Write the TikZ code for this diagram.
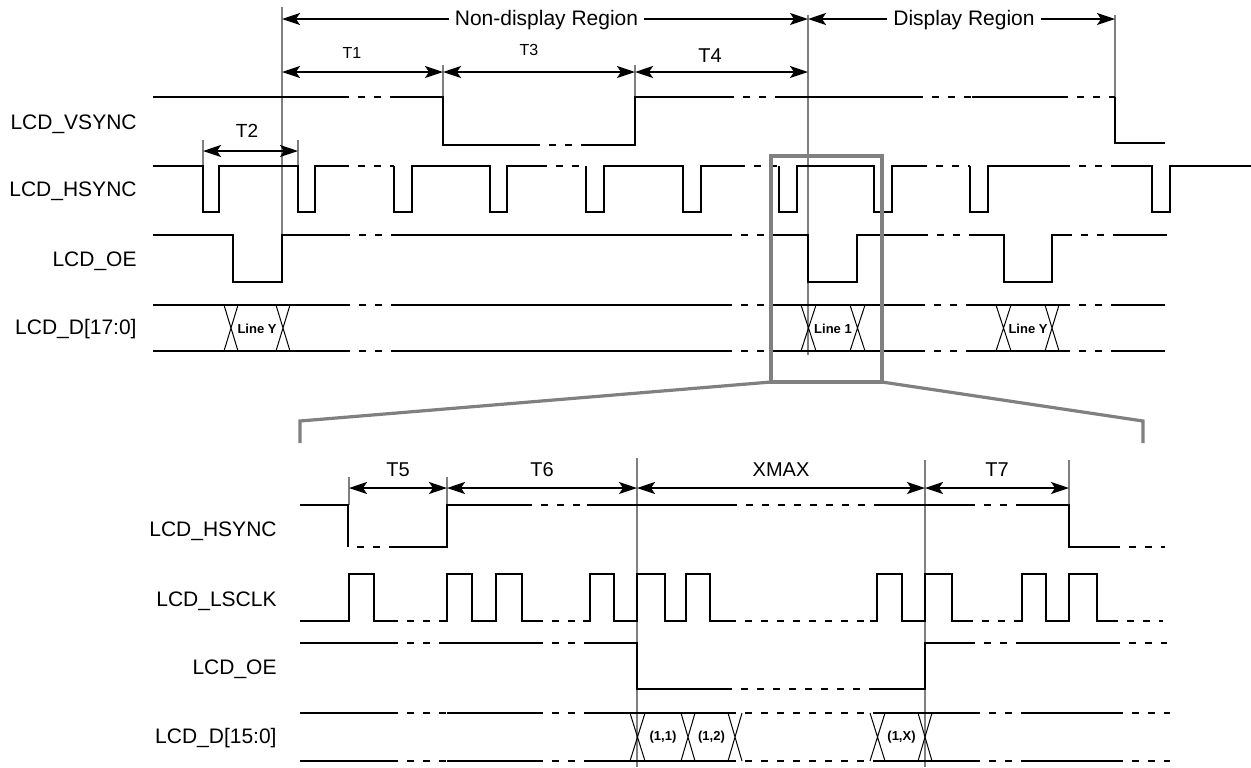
\documentclass[tikz,border=0pt]{standalone}
\usepackage{fontspec}
\setmainfont{Liberation Sans}
\usetikzlibrary{arrows.meta}
\definecolor{gline}{RGB}{128,128,128}
\newcommand\buscross[4]{\draw[xl] (#1,#3)--(#2,#4) (#1,#4)--(#2,#3);}
\begin{document}
\begin{tikzpicture}[x=0.5pt,y=-0.5pt,
 sig/.style={line width=1pt, line join=miter, line cap=butt},
 brk/.style={line width=1pt, dash pattern=on 3.5pt off 4.5pt, dash phase=3.5pt},
 xl/.style={line width=0.5pt},
 gl/.style={draw=gline, line width=0.9pt},
 zl/.style={draw=gline, line width=1.6pt},
 dim/.style={line width=1pt, {Stealth[length=9pt,width=6pt,inset=2pt]}-{Stealth[length=9pt,width=6pt,inset=2pt]}},
 lab/.style={anchor=base east, inner sep=0pt, font=\fontsize{10.5}{12}\selectfont},
 tl/.style={anchor=base, inner sep=0pt, font=\fontsize{10}{12}\selectfont},
 ts/.style={anchor=base, inner sep=0pt, font=\fontsize{8}{10}\selectfont},
 rl/.style={anchor=base, inner ysep=0pt, inner xsep=3pt, fill=white, font=\fontsize{10.5}{12}\selectfont},
 bl/.style={inner sep=0pt, font=\bfseries\fontsize{6.5}{8}\selectfont},
]
\fill[white] (0,0) rectangle (1251,767);
\useasboundingbox (0,0) rectangle (1251,767);

% ---------- gray guide lines (top) ----------
\draw[gl] (282,7) -- (282,235);
\draw[gl] (808,15) -- (808,355);
\draw[gl] (1115,15) -- (1115,97);
\draw[gl] (443,65) -- (443,97);
\draw[gl] (635,65) -- (635,97);
\draw[gl] (203,140) -- (203,166);
\draw[gl] (298,140) -- (298,166);

% ---------- dimension arrows (top) ----------
\coordinate (a0) at (282,19);
\coordinate (a1) at (808,19);
\coordinate (a2) at (1115,19);
\draw[dim] (a0) -- (a1);
\draw[dim] (a1) -- (a2);
\node[rl] (ndr) at (546.5,25) {Non-display Region};
\node[rl] (dr) at (964,25) {Display Region};

\coordinate (b0) at (282,72);
\coordinate (b1) at (443,72);
\coordinate (b2) at (635,72);
\coordinate (b3) at (808,72);
\draw[dim] (b0) -- (b1);
\draw[dim] (b1) -- (b2);
\draw[dim] (b2) -- (b3);
\node[ts] (t1) at (352,58) {T1};
\node[ts] (t3) at (529,55) {T3};
\node[tl] (t4) at (710,62) {T4};

\coordinate (c0) at (203,151);
\coordinate (c1) at (298,151);
\draw[dim] (c0) -- (c1);
\node[tl,font=\fontsize{9.5}{11}\selectfont] (t2) at (247,137) {T2};

% ---------- signal labels (top) ----------
\node[lab] (lvs) at (137,129) {LCD\_VSYNC};
\node[lab] (lhs) at (137,196) {LCD\_HSYNC};
\node[lab] (loe) at (137,266) {LCD\_OE};
\node[lab] (ld) at (137,334) {LCD\_D[17:0]};

% ---------- LCD_VSYNC ----------
\draw[sig] (153,97)--(349,97) (393,97)--(443,97)--(443,145)--(540,145)
 (582,145)--(635,145)--(635,97)--(734,97) (778,97)--(923,97) (972,97)--(1068,97)
 (1115,97)--(1115,143)--(1165,143);
\draw[brk] (349,97)--(393,97) (540,145)--(582,145) (734,97)--(778,97)
 (923,97)--(972,97) (1068,97)--(1115,97);

% ---------- LCD_HSYNC ----------
\draw[sig] (153,166)--(203,166)--(203,212)--(219,212)--(219,166)--(298,166)--(298,212)--(315,212)--(315,166)--(349,166)
 (394,166)--(394,212)--(412,212)--(412,166)--(490,166)--(490,212)--(507,212)--(507,166)--(547,166)
 (586,166)--(586,212)--(604,212)--(604,166)--(683,166)--(683,212)--(701,212)--(701,166)--(745,166)
 (779,166)--(779,212)--(797,212)--(797,166)--(874,166)--(874,212)--(892,212)--(892,166)--(927,166)
 (970,166)--(970,212)--(988,212)--(988,166)--(1070,166)
 (1113,166)--(1152,166)--(1152,212)--(1170,212)--(1170,166)--(1251,166);
\draw[brk] (349,166)--(394,166) (547,166)--(586,166) (745,166)--(779,166)
 (927,166)--(970,166) (1070,166)--(1113,166);

% ---------- LCD_OE ----------
\draw[sig] (153,235)--(233,235)--(233,282)--(282,282)--(282,235)--(350,235)
 (393,235)--(732,235) (778,235)--(808,235)--(808,282)--(857,282)--(857,235)--(928,235)
 (972,235)--(1004,235)--(1004,282)--(1052,282)--(1052,235)--(1072,235)
 (1115,235)--(1167,235);
\draw[brk] (350,235)--(393,235) (732,235)--(778,235) (928,235)--(972,235) (1072,235)--(1115,235);

% ---------- LCD_D[17:0] ----------
\foreach \yy in {305,351}{
 \draw[sig] (153,\yy)--(350,\yy) (393,\yy)--(732,\yy) (777,\yy)--(925,\yy)
  (968,\yy)--(1070,\yy) (1113,\yy)--(1165,\yy);
 \draw[brk] (350,\yy)--(393,\yy) (732,\yy)--(777,\yy) (925,\yy)--(968,\yy) (1070,\yy)--(1113,\yy);
}
\buscross{224}{238}{305}{351}
\buscross{276}{290}{305}{351}
\buscross{801}{816}{305}{351}
\buscross{850}{865}{305}{351}
\buscross{996}{1011}{305}{351}
\buscross{1045}{1059}{305}{351}
\node[bl] (ly1) at (257,329) {Line Y};
\node[bl] (l1) at (833,329) {Line 1};
\node[bl] (ly2) at (1028,329) {Line Y};

% ---------- zoom frame ----------
\draw[zl] (771,156) rectangle (882,382);
\draw[zl] (771,382) -- (300,421) -- (300,443);
\draw[zl] (882,382) -- (1143,421) -- (1143,443);

% ---------- bottom guide lines ----------
\draw[gl] (349,477) -- (349,505);
\draw[gl] (447,477) -- (447,505);
\draw[gl] (637,458) -- (637,767);
\draw[gl] (925,460) -- (925,767);
\draw[gl] (1069,460) -- (1069,547);

% ---------- bottom dimension arrows ----------
\coordinate (d0) at (349,488);
\coordinate (d1) at (447,488);
\coordinate (d2) at (637,488);
\coordinate (d3) at (925,488);
\coordinate (d4) at (1069,488);
\draw[dim] (d0) -- (d1);
\draw[dim] (d1) -- (d2);
\draw[dim] (d2) -- (d3);
\draw[dim] (d3) -- (d4);
\node[tl] (t5) at (398,476) {T5};
\node[tl] (t6) at (542,476) {T6};
\node[tl] (xm) at (781,476) {XMAX};
\node[tl] (t7) at (997,476) {T7};

% ---------- bottom signal labels ----------
\node[lab] (bhs) at (277,536) {LCD\_HSYNC};
\node[lab] (bck) at (277,606) {LCD\_LSCLK};
\node[lab] (boe) at (277,674) {LCD\_OE};
\node[lab] (bd) at (277,743) {LCD\_D[15:0]};

% ---------- bottom LCD_HSYNC ----------
\draw[sig] (300,505)--(348,505)--(348,547) (396,547)--(447,547)--(447,505)--(532,505)
 (587,505)--(737,505) (878,505)--(975,505) (1019,505)--(1069,505)--(1069,547)--(1120,547);
\draw[brk] (348,547)--(396,547) (532,505)--(587,505) (737,505)--(878,505)
 (975,505)--(1019,505) (1120,547)--(1165,547);

% ---------- LCD_LSCLK ----------
\draw[sig] (300,621)--(349,621)--(349,574)--(374,574)--(374,621)--(398,621)
 (440,621)--(447,621)--(447,574)--(472,574)--(472,621)--(496,621)--(496,574)--(522,574)--(522,621)--(543,621)
 (583,621)--(590,621)--(590,574)--(614,574)--(614,621)--(637,621)--(637,574)--(665,574)--(665,621)--(686,621)--(686,574)--(710,574)--(710,621)--(736,621)
 (870,621)--(877,621)--(877,574)--(902,574)--(902,621)--(925,621)--(925,574)--(952,574)--(952,621)--(973,621)
 (1015,621)--(1022,621)--(1022,574)--(1046,574)--(1046,621)--(1069,621)--(1069,574)--(1097,574)--(1097,621)--(1118,621);
\draw[brk] (398,621)--(440,621) (543,621)--(583,621) (736,621)--(870,621)
 (973,621)--(1015,621) (1118,621)--(1163,621);

% ---------- bottom LCD_OE ----------
\draw[sig] (300,643)--(398,643) (442,643)--(543,643) (588,643)--(637,643)--(637,689)--(732,689)
 (875,689)--(925,689)--(925,643)--(975,643) (1021,643)--(1120,643);
\draw[brk] (398,643)--(442,643) (543,643)--(588,643) (732,689)--(875,689)
 (975,643)--(1021,643) (1120,643)--(1167,643);

% ---------- LCD_D[15:0] ----------
\foreach \yy in {713,761}{
 \draw[sig] (300,\yy)--(398,\yy) (447,\yy)--(543,\yy) (590,\yy)--(736,\yy)
  (878,\yy)--(980,\yy) (1022,\yy)--(1123,\yy);
 \draw[brk] (398,\yy)--(447,\yy) (543,\yy)--(590,\yy) (736,\yy)--(878,\yy)
  (980,\yy)--(1022,\yy) (1123,\yy)--(1170,\yy);
}
\buscross{630}{645}{713}{761}
\buscross{681}{695}{713}{761}
\buscross{728}{742}{713}{761}
\buscross{870}{885}{713}{761}
\buscross{918}{932}{713}{761}
\node[bl] (p11) at (663,737) {(1,1)};
\node[bl] (p12) at (711.5,737) {(1,2)};
\node[bl] (p1x) at (901.5,737) {(1,X)};
\end{tikzpicture}
\end{document}
